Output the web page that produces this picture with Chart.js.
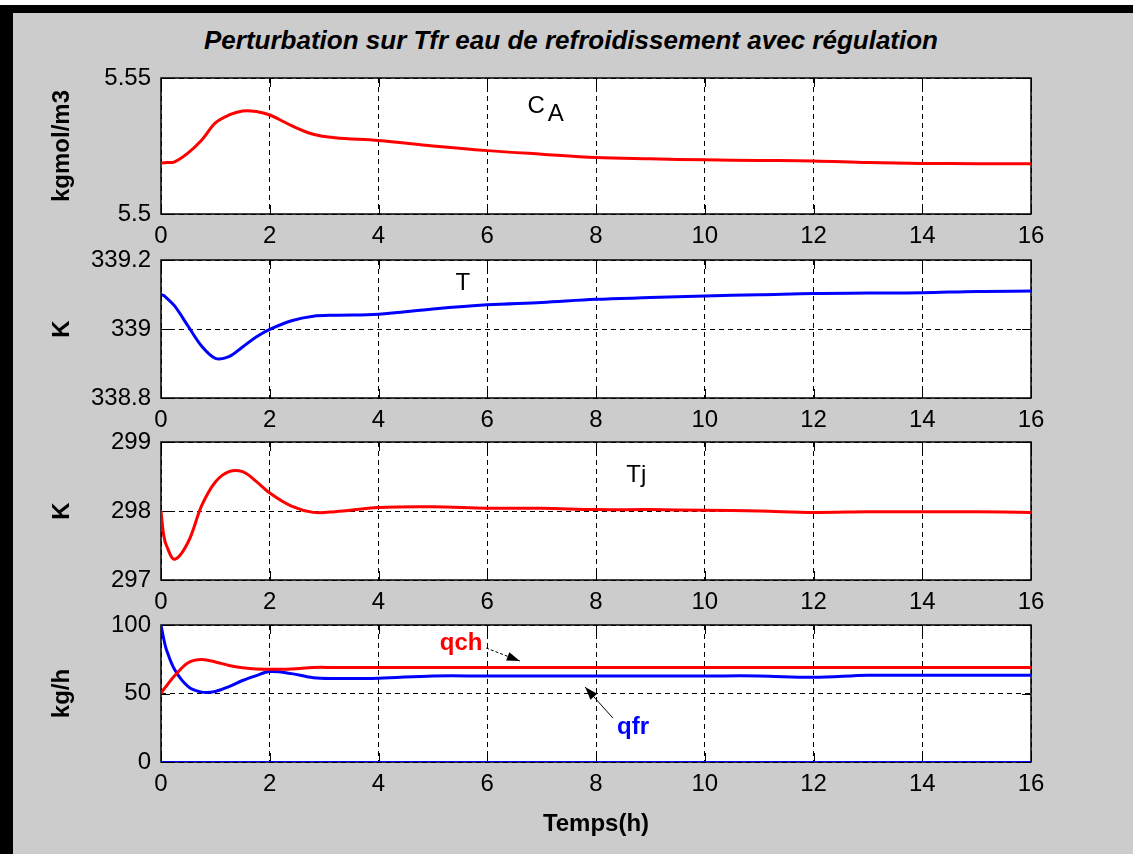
<!DOCTYPE html>
<html>
<head>
<meta charset="utf-8">
<script src="https://cdn.jsdelivr.net/npm/chart.js@4.4.0/dist/chart.umd.min.js"></script>
<style>
  html, body { margin: 0; padding: 0; background: #fff; }
  #fig { position: relative; width: 1133px; height: 854px; background: #cccccc; overflow: hidden; }
  #whiteTop { position: absolute; left: 0; top: 0; width: 1133px; height: 5px; background: #fff; }
  #barTop { position: absolute; left: 0; top: 5px; width: 1133px; height: 8px; background: #000; }
  #barLeft { position: absolute; left: 0; top: 5px; width: 13px; height: 849px; background: #000; }
  #title { position: absolute; left: 0; top: 24px; width: 1142px; text-align: center;
           font: italic bold 26px "Liberation Sans", Arial, sans-serif; line-height: 32px; color: #000; }
  canvas { position: absolute; left: 0; }
</style>
</head>
<body>
<div id="fig">
  <div id="whiteTop"></div>
  <div id="barTop"></div>
  <div id="barLeft"></div>
  <div id="title">Perturbation sur Tfr eau de refroidissement avec régulation</div>
  <canvas id="c1" width="1133" height="206" style="top:48px"></canvas>
  <canvas id="c2" width="1133" height="208" style="top:230px"></canvas>
  <canvas id="c3" width="1133" height="208" style="top:412px"></canvas>
  <canvas id="c4" width="1133" height="247" style="top:595px"></canvas>
</div>
<script>
// temps (h) commun a toutes les courbes
const time = [0, 0.05, 0.1, 0.25, 0.5, 0.75, 1, 1.25, 1.5, 1.75, 2, 2.4, 2.8, 3.2, 4, 5, 6, 7, 8, 9, 10, 11, 12, 13, 14, 15, 16];

// CA (kgmol/m3)
const cA = [5.5188, 5.5188, 5.5189, 5.5192, 5.5225, 5.5272, 5.5335, 5.5364, 5.5379, 5.5377, 5.5364, 5.5325, 5.5293, 5.528,
            5.527, 5.525, 5.5233, 5.522, 5.5208, 5.5203, 5.5199, 5.5197, 5.5195, 5.5189, 5.5186, 5.5185, 5.5185];
// T reacteur (K)
const tReact = [339.100, 339.097, 339.09, 339.067, 339.008, 338.95, 338.915, 338.92, 338.948, 338.977, 338.999, 339.024, 339.037, 339.04,
                339.043, 339.058, 339.07, 339.077, 339.086, 339.091, 339.096, 339.099, 339.103, 339.104, 339.105, 339.109, 339.11];
// Tj double enveloppe (K)
const tJacket = [298.0, 297.65, 297.5, 297.3, 297.55, 298.08, 298.42, 298.57, 298.57, 298.43, 298.26, 298.07, 297.98, 297.99,
                 298.05, 298.06, 298.04, 298.04, 298.02, 298.02, 298.01, 298.0, 297.98, 297.99, 297.99, 297.99, 297.98];
// debits (kg/h)
const qch = [50, 53, 55.5, 63, 72.5, 74.8, 73, 70.5, 68.8, 67.8, 67.7, 67.8, 69, 69,
             69, 69, 69, 69, 69, 69, 69, 69, 69, 69, 69, 69, 69];
const qfr = [100, 90, 82, 67.5, 55, 51, 51.5, 55, 59.5, 63, 66, 64.5, 61.5, 61,
             61.2, 62.8, 62.8, 62.8, 62.8, 62.8, 62.8, 62.8, 61.8, 63.3, 63.3, 63.3, 63.3];
const zeroTime = [0, 16];
const zeroLine = [0, 0];

const FONT = '"Liberation Sans", Arial, sans-serif';
const tickFont = { family: FONT, size: 24 };
const labelFont = { family: FONT, size: 24, weight: 'bold' };

function pts(xs, ys) {
    return xs.map((t, i) => ({ x: t, y: ys[i] }));
}

function arrowHead(ctx, x0, y0, x1, y1) {
    const a = Math.atan2(y1 - y0, x1 - x0);
    ctx.beginPath();
    ctx.moveTo(x1, y1);
    ctx.lineTo(x1 - 13 * Math.cos(a) + 4.5 * Math.sin(a), y1 - 13 * Math.sin(a) - 4.5 * Math.cos(a));
    ctx.lineTo(x1 - 13 * Math.cos(a) - 4.5 * Math.sin(a), y1 - 13 * Math.sin(a) + 4.5 * Math.cos(a));
    ctx.closePath();
    ctx.fill();
}

const overlay = {
    id: 'overlay',
    beforeDraw(chart) {
        const a = chart.chartArea, ctx = chart.ctx;
        ctx.save();
        ctx.fillStyle = '#fff';
        ctx.fillRect(a.left, a.top, a.right - a.left, a.bottom - a.top);
        ctx.restore();
    },
    beforeDatasetsDraw(chart) {
        const a = chart.chartArea, ctx = chart.ctx;
        const xs = chart.scales.x, ys = chart.scales.y;
        ctx.save();
        ctx.strokeStyle = '#000';
        ctx.lineWidth = 1;
        ctx.beginPath();
        xs.ticks.forEach(tk => {
            const px = Math.round(xs.getPixelForValue(tk.value)) + 0.5;
            ctx.moveTo(px, a.bottom); ctx.lineTo(px, a.bottom - 9);
            ctx.moveTo(px, a.top); ctx.lineTo(px, a.top + 9);
        });
        ys.ticks.forEach(tk => {
            const py = Math.round(ys.getPixelForValue(tk.value)) + 0.5;
            ctx.moveTo(a.left, py); ctx.lineTo(a.left + 9, py);
            ctx.moveTo(a.right, py); ctx.lineTo(a.right - 9, py);
        });
        ctx.stroke();
        ctx.lineWidth = 1.5;
        ctx.strokeRect(a.left, a.top, a.right - a.left, a.bottom - a.top);
        ctx.restore();
    },
    afterDatasetsDraw(chart, args, opts) {
        const ctx = chart.ctx;
        const xs = chart.scales.x, ys = chart.scales.y;
        (opts.notes || []).forEach(n => {
            const px = xs.getPixelForValue(n.x), py = ys.getPixelForValue(n.y);
            ctx.save();
            ctx.fillStyle = n.color || '#000';
            ctx.font = (n.bold ? 'bold ' : '') + (n.size || 24) + 'px ' + FONT;
            ctx.textAlign = 'center';
            ctx.textBaseline = 'middle';
            ctx.fillText(n.text, px, py);
            if (n.sub) {
                const w = ctx.measureText(n.text).width;
                ctx.textAlign = 'left';
                ctx.fillText(n.sub, px + w / 2 + 3, py + 8);
            }
            if (n.arrow) {
                const x0 = xs.getPixelForValue(n.arrow[0]), y0 = ys.getPixelForValue(n.arrow[1]);
                const x1 = xs.getPixelForValue(n.arrow[2]), y1 = ys.getPixelForValue(n.arrow[3]);
                ctx.strokeStyle = '#000';
                ctx.fillStyle = '#000';
                ctx.lineWidth = 1;
                if (n.dashed) ctx.setLineDash([3, 2]);
                ctx.beginPath();
                ctx.moveTo(x0, y0);
                ctx.lineTo(x1, y1);
                ctx.stroke();
                ctx.setLineDash([]);
                arrowHead(ctx, x0, y0, x1, y1);
            }
            ctx.restore();
        });
    }
};
Chart.register(overlay);

function xAxis(h, title) {
    return {
        type: 'linear', min: 0, max: 16,
        ticks: { stepSize: 2, padding: 8, color: '#000', font: tickFont, maxRotation: 0, autoSkip: false },
        grid: { color: '#000', lineWidth: 1, drawTicks: false },
        border: { display: false, dash: [5, 4] },
        title: title ? { display: true, text: title, color: '#000', font: labelFont, padding: { top: 0, bottom: 3 } }
                     : { display: false },
        afterFit(s) { s.height = h; }
    };
}

function yAxis(min, max, step, title) {
    return {
        min: min, max: max,
        ticks: { stepSize: step, padding: 10, color: '#000', font: tickFont, callback: v => String(+v.toFixed(3)) },
        grid: { color: '#000', lineWidth: 1, drawTicks: false },
        border: { display: false, dash: [5, 4] },
        title: { display: true, text: title, color: '#000', font: labelFont, padding: { top: 48, bottom: 0 } },
        afterFit(s) { s.width = 161; }
    };
}

function line(data, color, width) {
    return {
        data: data, borderColor: color, borderWidth: width || 3, pointRadius: 0,
        tension: 0.35, fill: false
    };
}

function makePanel(id, datasets, y, xH, xTitle, notes) {
    return new Chart(document.getElementById(id), {
        type: 'line',
        data: { datasets: datasets },
        options: {
            responsive: false,
            animation: false,
            events: [],
            layout: { padding: { top: 30, right: 102, left: 0, bottom: 0 } },
            scales: { x: xAxis(xH, xTitle), y: y },
            plugins: {
                legend: { display: false },
                tooltip: { enabled: false },
                overlay: { notes: notes }
            }
        }
    });
}

makePanel('c1', [line(pts(time, cA), '#ff0000')], yAxis(5.5, 5.55, 0.05, 'kgmol/m3'), 40, null,
    [{ x: 6.9, y: 5.5395, text: 'C', sub: 'A', size: 24 }]);

makePanel('c2', [line(pts(time, tReact), '#0000ff')], yAxis(338.8, 339.2, 0.2, 'K'), 40, null,
    [{ x: 5.55, y: 339.133, text: 'T', size: 24 }]);

makePanel('c3', [line(pts(time, tJacket), '#ff0000')], yAxis(297, 299, 1, 'K'), 40, null,
    [{ x: 8.74, y: 298.51, text: 'Tj', size: 24 }]);

makePanel('c4', [
        line(pts(zeroTime, zeroLine), '#0000ff', 2),
        line(pts(time, qch), '#ff0000'),
        line(pts(time, qfr), '#0000ff')
    ], yAxis(0, 100, 50, 'kg/h'), 80, 'Temps(h)',
    [{ x: 5.52, y: 86.9, text: 'qch', color: '#ff0000', bold: true, arrow: [5.98, 83.2, 6.6, 73.7], dashed: true },
     { x: 8.68, y: 25.5, text: 'qfr', color: '#0000ff', bold: true, arrow: [8.31, 32.1, 7.8, 54.7] }]);
</script>
</body>
</html>
